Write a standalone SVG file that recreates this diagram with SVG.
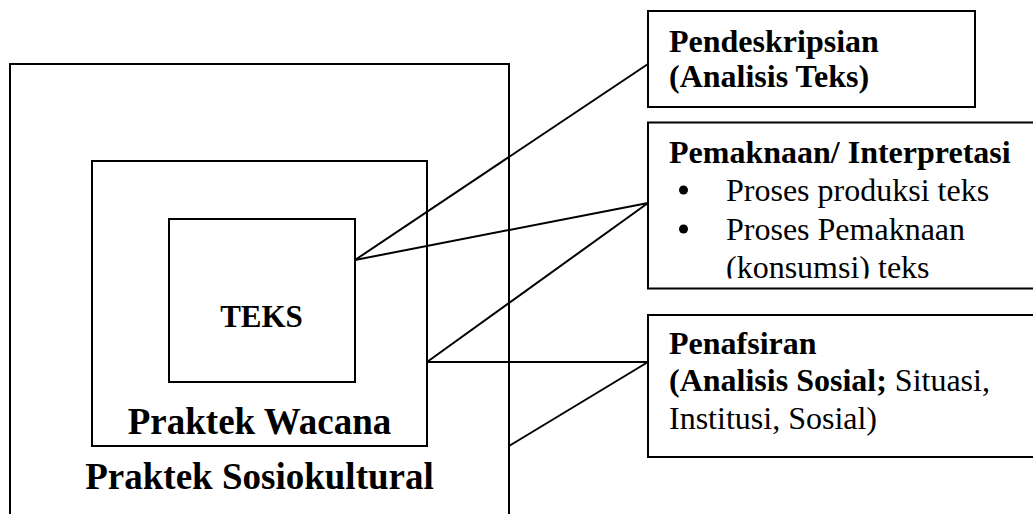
<svg xmlns="http://www.w3.org/2000/svg" width="1033" height="514" viewBox="0 0 1033 514">
  <style>
    .box { fill: none; stroke: #000; stroke-width: 2; }
    .wbox { fill: #fff; stroke: #000; stroke-width: 2; }
    .conn { stroke: #000; stroke-width: 2; fill: none; }
    text { font-family: "Liberation Serif", "Times New Roman", serif; fill: #000; }
    .b { font-weight: bold; }
    .big { font-size: 37px; font-weight: bold; }
    .r { font-size: 32px; }
  </style>
  <defs>
    <clipPath id="clip2"><rect x="649" y="124" width="384" height="154.5"/></clipPath>
  </defs>
  <rect width="1033" height="514" fill="#fff"/>

  <g id="praktek-sosiokultural">
    <rect class="box" x="10" y="64" width="499" height="470"/>
    <text class="big" x="259.5" y="489" text-anchor="middle">Praktek Sosiokultural</text>
  </g>
  <g id="praktek-wacana">
    <rect class="box" x="92" y="161" width="335" height="285"/>
    <text class="big" x="259.5" y="434" text-anchor="middle">Praktek Wacana</text>
  </g>
  <g id="teks">
    <rect class="box" x="169" y="219" width="186" height="163"/>
    <text class="b" x="261.5" y="327" text-anchor="middle" font-size="31">TEKS</text>
  </g>

  <g id="connectors">
    <line class="conn" x1="355" y1="260" x2="648" y2="64"/>
    <line class="conn" x1="355" y1="260" x2="648" y2="203"/>
    <line class="conn" x1="427" y1="362" x2="648" y2="203"/>
    <line class="conn" x1="427" y1="362" x2="648" y2="362"/>
    <line class="conn" x1="509" y1="446" x2="648" y2="362"/>
  </g>

  <g id="pendeskripsian">
    <rect class="wbox" x="648" y="11" width="327" height="96"/>
    <text class="b r" x="669" y="52">Pendeskripsian</text>
    <text class="b r" x="669" y="87">(Analisis Teks)</text>
  </g>
  <g id="pemaknaan">
    <rect class="wbox" x="648" y="122.5" width="400" height="166"/>
    <g clip-path="url(#clip2)">
      <text class="b r" x="669" y="163">Pemaknaan/ Interpretasi</text>
      <circle cx="683.5" cy="190" r="4.5"/>
      <text class="r" x="726" y="201">Proses produksi teks</text>
      <circle cx="683.5" cy="229" r="4.5"/>
      <text class="r" x="726" y="240">Proses Pemaknaan</text>
      <text class="r" x="726" y="278">(konsumsi) teks</text>
    </g>
  </g>
  <g id="penafsiran">
    <rect class="wbox" x="648" y="315" width="400" height="142"/>
    <text class="b r" x="669" y="354">Penafsiran</text>
    <text class="r" x="669" y="391"><tspan class="b">(Analisis Sosial;</tspan> Situasi,</text>
    <text class="r" x="669" y="429">Institusi, Sosial)</text>
  </g>
</svg>
